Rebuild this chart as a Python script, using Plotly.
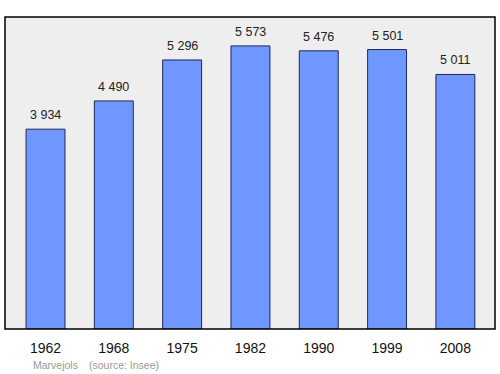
import plotly.graph_objects as go

years = ["1962", "1968", "1975", "1982", "1990", "1999", "2008"]
population = [3934, 4490, 5296, 5573, 5476, 5501, 5011]
labels = ["3 934", "4 490", "5 296", "5 573", "5 476", "5 501", "5 011"]

xs = list(range(len(years)))

fig = go.Figure()
fig.add_trace(go.Bar(
    x=xs, y=population, width=0.57,
    marker=dict(color="#7096ff", line=dict(color="#1f2a55", width=1)),
    hoverinfo="skip",
))

for x, v, t in zip(xs, population, labels):
    fig.add_annotation(x=x, y=v, text=t, showarrow=False, yanchor="bottom",
                       yshift=5, font=dict(family="Liberation Sans, Arial", size=12.5, color="#222222"))

fig.add_annotation(xref="paper", yref="paper", x=26 / 490, y=-36 / 312, xanchor="left", yanchor="middle",
                   text="Marvejols", showarrow=False,
                   font=dict(family="Liberation Sans, Arial", size=10.5, color="#999999"))
fig.add_annotation(xref="paper", yref="paper", x=82 / 490, y=-36 / 312, xanchor="left", yanchor="middle",
                   text="(source: Insee)", showarrow=False,
                   font=dict(family="Liberation Sans, Arial", size=10.5, color="#999999"))

fig.add_shape(type="rect", xref="paper", yref="paper", x0=0, y0=0, x1=1, y1=1,
              line=dict(color="#000000", width=1.5), layer="above")

fig.update_layout(
    width=500, height=374,
    margin=dict(l=5, r=5, t=17, b=45),
    paper_bgcolor="white", plot_bgcolor="#eeeeee",
    showlegend=False,
    xaxis=dict(range=[-0.593, 6.58], tickvals=xs, ticktext=years, showgrid=False,
               zeroline=False, showline=False, ticks="", ticklabelstandoff=9,
               tickfont=dict(family="Liberation Sans, Arial", size=14, color="#111111")),
    yaxis=dict(range=[0, 6142], showgrid=False, zeroline=False, showticklabels=False, ticks=""),
)

fig.write_html("out.html")
